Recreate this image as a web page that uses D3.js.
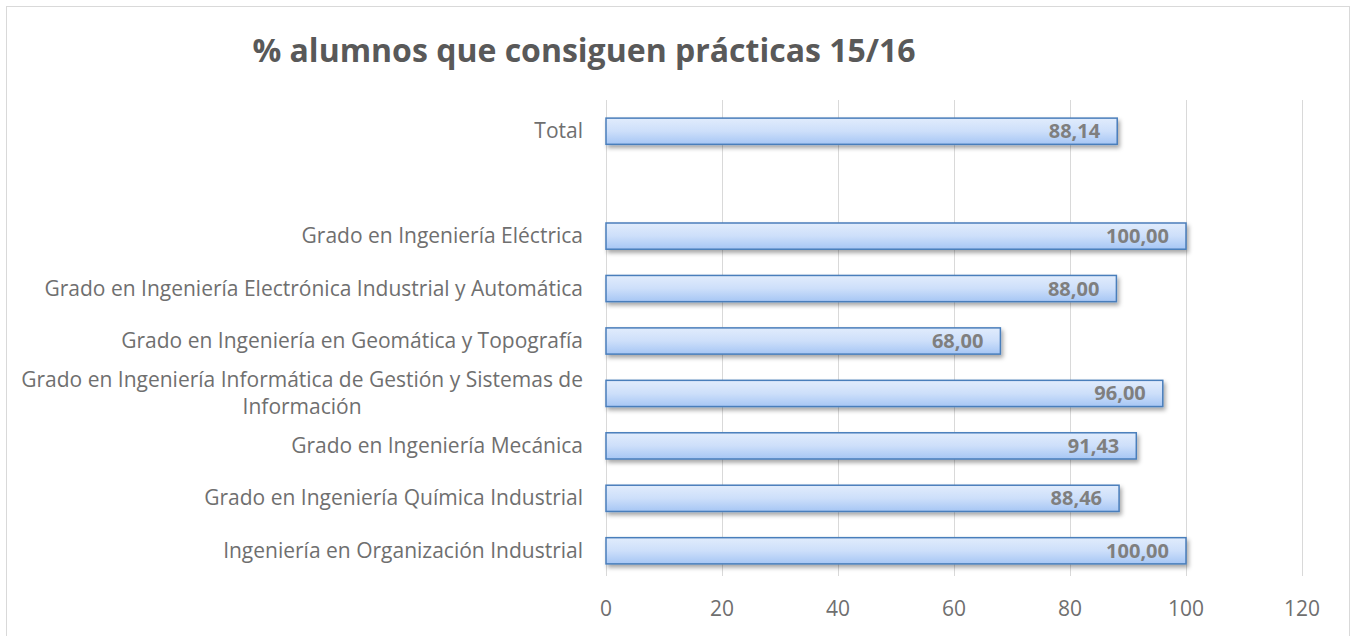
<!DOCTYPE html>
<html>
<head>
<meta charset="utf-8">
<script src="https://cdn.jsdelivr.net/npm/d3@7"></script>
<style>
  body { margin: 0; background: #fff; }
  svg text { font-family: "Open Sans", sans-serif; }
</style>
</head>
<body>
<div id="chart-area"></div>
<script>
// Chart data
const categories = [
    "Total",
    "",
    "Grado en Ingeniería Eléctrica",
    "Grado en Ingeniería Electrónica Industrial y Automática",
    "Grado en Ingeniería en Geomática y Topografía",
    "Grado en Ingeniería Informática de Gestión y Sistemas de|Información",
    "Grado en Ingeniería Mecánica",
    "Grado en Ingeniería Química Industrial",
    "Ingeniería en Organización Industrial"
];
const values = [88.14, null, 100.00, 88.00, 68.00, 96.00, 91.43, 88.46, 100.00];
const xTicks = [0, 20, 40, 60, 80, 100, 120];
const title = "% alumnos que consiguen prácticas 15/16";

let width = 1354, height = 636;
let margin = {left: 606, right: 52, top: 105, bottom: 59};

let svg = d3.select("#chart-area").append("svg")
    .attr("width", width)
    .attr("height", height);

// outer chart frame
svg.append("rect")
    .attr("x", 6.5).attr("y", 6.5)
    .attr("width", 1343).attr("height", 640)
    .attr("fill", "#fff")
    .attr("stroke", "#d9d9d9");

let defs = svg.append("defs");
let grad = defs.append("linearGradient")
    .attr("id", "barGrad")
    .attr("x1", 0).attr("y1", 0).attr("x2", 0).attr("y2", 1);
grad.append("stop").attr("offset", "0%").attr("stop-color", "#e1ecfc");
grad.append("stop").attr("offset", "50%").attr("stop-color", "#cddffa");
grad.append("stop").attr("offset", "100%").attr("stop-color", "#a6c6f4");

let shadow = defs.append("filter").attr("id", "shadow")
    .attr("x", "-5%").attr("y", "-30%").attr("width", "110%").attr("height", "180%");
shadow.append("feDropShadow")
    .attr("dx", 2).attr("dy", 3).attr("stdDeviation", 2)
    .attr("flood-color", "#000").attr("flood-opacity", 0.35);

let x = d3.scaleLinear()
    .domain([0, 120])
    .range([margin.left, width - margin.right]);

let y = d3.scaleBand()
    .domain(d3.range(categories.length))
    .range([margin.top, height - margin.bottom])
    .paddingInner(0.5)
    .paddingOuter(0.25);

// title
svg.append("text")
    .attr("x", 584)
    .attr("y", 62)
    .attr("text-anchor", "middle")
    .text(title)
    .attr("style", "font-size: 32px; font-weight: bold; fill: #595959;");

// gridlines
svg.append("g")
    .selectAll("line")
    .data(xTicks)
    .enter().append("line")
    .attr("x1", d => Math.round(x(d)) + 0.5)
    .attr("x2", d => Math.round(x(d)) + 0.5)
    .attr("y1", 100)
    .attr("y2", 576)
    .attr("stroke", "#d9d9d9")
    .attr("stroke-width", 1);

// x tick labels
svg.append("g")
    .selectAll("text")
    .data(xTicks)
    .enter().append("text")
    .attr("x", d => x(d))
    .attr("y", 616)
    .attr("text-anchor", "middle")
    .text(d => d)
    .attr("style", "font-size: 21px; fill: #6f6f6f;");

// bars
let rows = categories.map((c, i) => ({cat: c, value: values[i], i: i}))
    .filter(d => d.value !== null);

svg.append("g")
    .selectAll("rect")
    .data(rows)
    .enter().append("rect")
    .attr("x", x(0))
    .attr("y", d => y(d.i))
    .attr("width", d => x(d.value) - x(0))
    .attr("height", y.bandwidth())
    .attr("fill", "url(#barGrad)")
    .attr("stroke", "#4a7ebb")
    .attr("stroke-width", 1.5)
    .attr("filter", "url(#shadow)");

// value labels
svg.append("g")
    .selectAll("text")
    .data(rows)
    .enter().append("text")
    .attr("x", d => x(d.value) - 17)
    .attr("y", d => y(d.i) + y.bandwidth() / 2 + 7)
    .attr("text-anchor", "end")
    .text(d => d.value.toFixed(2).replace(".", ","))
    .attr("style", "font-size: 20px; font-weight: bold; fill: #7f7f7f;");

// category labels (wrapped ones are centred under their longest line)
let labelRight = x(0) - 23;
let labels = svg.append("g");
categories.forEach((c, i) => {
    if (!c) return;
    let lines = c.split("|");
    let cy = y(i) + y.bandwidth() / 2;
    let t = labels.append("text")
        .attr("style", "font-size: 21px; fill: #6f6f6f;");
    if (lines.length === 1) {
        t.attr("x", labelRight).attr("y", cy + 7)
            .attr("text-anchor", "end")
            .text(c);
    } else {
        let lh = 27;
        lines.forEach((l, k) => {
            t.append("tspan")
                .attr("y", cy + 7 - lh / 2 + k * lh)
                .text(l);
        });
        let w = d3.max(t.selectAll("tspan").nodes(), n => n.getComputedTextLength());
        t.attr("text-anchor", "middle");
        t.selectAll("tspan").attr("x", labelRight - w / 2);
    }
});
</script>
</body>
</html>
